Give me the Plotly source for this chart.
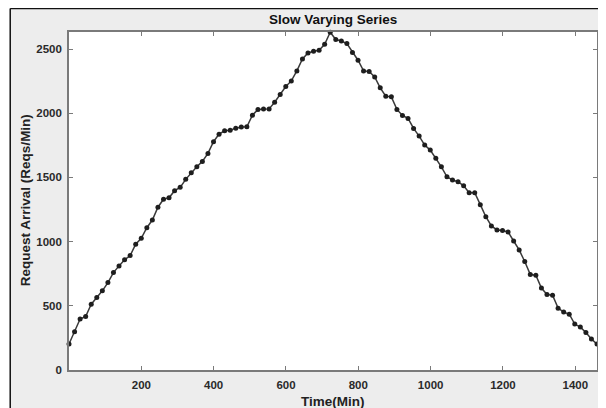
import plotly.graph_objects as go

# Request arrivals (Reqs/Min), sampled uniformly over the day
requests = [202, 298, 397, 417, 513, 565, 617, 681, 759, 811, 858, 891, 980, 1026, 1108, 1168,
            1268, 1330, 1342, 1397, 1423, 1485, 1537, 1583, 1625, 1687, 1778, 1837, 1863, 1868,
            1884, 1892, 1894, 1985, 2030, 2034, 2034, 2086, 2146, 2208, 2252, 2330, 2423, 2470,
            2483, 2491, 2537, 2631, 2574, 2563, 2543, 2473, 2413, 2330, 2325, 2283, 2198, 2133,
            2128, 2030, 1983, 1960, 1882, 1822, 1752, 1713, 1649, 1583, 1505, 1480, 1467, 1435,
            1381, 1381, 1288, 1194, 1122, 1091, 1086, 1075, 1005, 935, 845, 743, 739, 638, 588,
            583, 482, 451, 435, 358, 334, 292, 241, 202]
t_end = 1460
time_min = [round(i * t_end / (len(requests) - 1), 1) for i in range(len(requests))]

x_ticks = [200, 400, 600, 800, 1000, 1200, 1400]
y_ticks = [0, 500, 1000, 1500, 2000, 2500]

title_text = "Slow Varying Series"
x_label = "Time(Min)"
y_label = "Request Arrival (Reqs/Min)"

# page has an 8px body margin; the figure fills the rest of the 606x408 window
OFF = 8
W, H = 606 - OFF, 408 - OFF
L, R, T, B = 69 - OFF, 7, 32 - OFF, 38
pw, ph = W - L - R, H - T - B

def px(xp):  # reference-window pixel -> paper coordinate
    return (xp - OFF - L) / pw

def py(yp):
    return (H - B - (yp - OFF)) / ph

FONT = "Liberation Sans, Arial, sans-serif"
AX = "#7a7a7a"

fig = go.Figure()
fig.add_trace(go.Scatter(
    x=time_min, y=requests, mode="lines+markers",
    line=dict(color="#3a3a3a", width=1.5),
    marker=dict(color="#1e1e1e", size=5),
    showlegend=False, cliponaxis=False,
))

axis_common = dict(
    showline=True, linecolor=AX, linewidth=1.6, mirror="ticks",
    ticks="inside", ticklen=4, tickcolor=AX, tickwidth=1,
    showgrid=False, zeroline=False,
    tickfont=dict(family=FONT, size=11.5, color="#2a2a2a", weight="bold"),
)

fig.update_layout(
    width=W, height=H,
    margin=dict(l=L, r=R, t=T, b=B, pad=0),
    paper_bgcolor="#ededed", plot_bgcolor="white",
    xaxis=dict(range=[0, t_end], tickvals=x_ticks, ticklabelstandoff=3, **axis_common),
    yaxis=dict(range=[0, 2633], tickvals=y_ticks, ticklabelstandoff=3, **axis_common),
    shapes=[
        dict(type="rect", xref="paper", yref="paper", layer="below",
             x0=px(OFF - 2), x1=px(9.6), y0=py(410), y1=py(6),
             fillcolor="white", line=dict(width=0)),
        dict(type="line", xref="paper", yref="paper", layer="above",
             x0=px(10), x1=px(10), y0=py(410), y1=py(8.6),
             line=dict(color="#111", width=1.5)),
        dict(type="line", xref="paper", yref="paper", layer="above",
             x0=px(10), x1=px(608), y0=py(8.6), y1=py(8.6),
             line=dict(color="#111", width=1.5)),
    ],
    annotations=[
        dict(text=title_text, xref="paper", yref="paper", x=0.5, y=py(19.5),
             xanchor="center", yanchor="middle", showarrow=False,
             font=dict(family=FONT, size=13.5, color="#111", weight="bold")),
        dict(text=x_label, xref="paper", yref="paper", x=0.5, y=py(401.5),
             xanchor="center", yanchor="middle", showarrow=False,
             font=dict(family=FONT, size=13.5, color="#222", weight="bold")),
        dict(text=y_label, xref="paper", yref="paper", x=px(25), y=py(200),
             xanchor="center", yanchor="middle", showarrow=False, textangle=-90,
             font=dict(family=FONT, size=13.5, color="#222", weight="bold")),
    ],
)

fig.write_html("out.html")
